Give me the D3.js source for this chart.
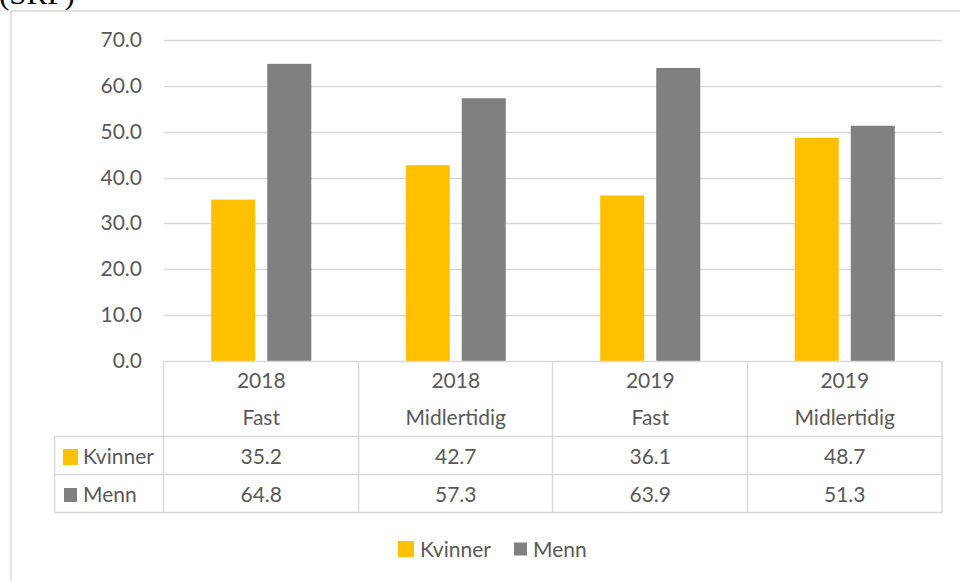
<!DOCTYPE html>
<html lang="no">
<head>
    <meta charset="UTF-8">
    <title>Kvinner og menn, fast og midlertidig</title>
    <script src="https://cdnjs.cloudflare.com/ajax/libs/d3/7.8.5/d3.min.js"></script>
    <style>
        * { margin: 0; padding: 0; box-sizing: border-box; }
        body { background: #fff; width: 960px; height: 581px; overflow: hidden; }
        svg text { font-family: Lato, 'Noto Sans', sans-serif; fill: #595959; }
    </style>
</head>
<body>
    <div id="chart"></div>
    <script>
        // data
        const years = ['2018', '2018', '2019', '2019'];
        const types = ['Fast', 'Midlertidig', 'Fast', 'Midlertidig'];
        const seriesNames = ['Kvinner', 'Menn'];
        const kvinner = [35.2, 42.7, 36.1, 48.7];
        const menn = [64.8, 57.3, 63.9, 51.3];
        const yTicks = [0, 10, 20, 30, 40, 50, 60, 70];
        const colors = ['#FFC000', '#808080'];

        const width = 960, height = 581;
        const svg = d3.select('#chart').append('svg')
            .attr('width', width)
            .attr('height', height);

        // title cut off at top
        svg.append('text')
            .attr('x', -1)
            .attr('y', 4)
            .style('font-family', "'Liberation Serif', serif")
            .style('font-size', '31px')
            .style('fill', '#000')
            .text('(SRF)');

        // chart frame (runs past the right/bottom edge)
        svg.append('rect')
            .attr('x', 11).attr('y', 11)
            .attr('width', 1000).attr('height', 700)
            .attr('fill', 'none')
            .attr('stroke', '#d9d9d9')
            .attr('stroke-width', 1.5);

        const plotLeft = 164, plotRight = 942;
        const cats = d3.range(years.length);

        const x0 = d3.scaleBand().domain(cats).range([plotLeft, plotRight]).padding(0);
        const x1 = d3.scaleBand().domain(seriesNames).range([0, x0.bandwidth()])
            .paddingInner(0.214).paddingOuter(0.843);
        const y = d3.scaleLinear().domain([0, 70]).range([361, 40]);

        // gridlines
        svg.append('g').selectAll('line')
            .data(yTicks.slice(1))
            .join('line')
            .attr('x1', plotLeft).attr('x2', plotRight)
            .attr('y1', d => Math.round(y(d)) + 0.5)
            .attr('y2', d => Math.round(y(d)) + 0.5)
            .attr('stroke', '#d9d9d9')
            .attr('stroke-width', 1.5);

        // y labels
        svg.append('g').selectAll('text')
            .data(yTicks)
            .join('text')
            .attr('x', 142)
            .attr('y', d => y(d) + 7)
            .attr('text-anchor', 'end')
            .style('font-size', '21px')
            .text(d => d.toFixed(1));

        // bars
        const seriesData = [kvinner, menn];
        seriesNames.forEach((name, si) => {
            svg.append('g').selectAll('rect')
                .data(cats)
                .join('rect')
                .attr('x', i => x0(i) + x1(name))
                .attr('y', i => y(seriesData[si][i]))
                .attr('width', x1.bandwidth())
                .attr('height', i => y(0) - y(seriesData[si][i]))
                .attr('fill', colors[si]);
        });

        // data table
        const tableTop = 361, headerBottom = 436.5, rowH = 38;
        const tableLeft = 54.5;
        const grid = '#d9d9d9';
        const tbl = svg.append('g');

        const hline = (xa, xb, yy) => tbl.append('line')
            .attr('x1', xa).attr('x2', xb).attr('y1', yy).attr('y2', yy)
            .attr('stroke', grid).attr('stroke-width', 1.5);
        const vline = (xx, ya, yb) => tbl.append('line')
            .attr('x1', xx).attr('x2', xx).attr('y1', ya).attr('y2', yb)
            .attr('stroke', grid).attr('stroke-width', 1.5);

        hline(plotLeft, plotRight, tableTop + 0.5);
        hline(tableLeft, plotRight, headerBottom);
        hline(tableLeft, plotRight, headerBottom + rowH);
        hline(tableLeft, plotRight, headerBottom + 2 * rowH);
        vline(tableLeft, headerBottom, headerBottom + 2 * rowH);
        cats.forEach(i => vline(Math.round(x0(i)) - 0.5, tableTop, headerBottom + 2 * rowH));
        vline(plotRight, tableTop, headerBottom + 2 * rowH);

        // header labels
        tbl.selectAll('.yr').data(cats).join('text')
            .attr('x', i => x0(i) + x0.bandwidth() / 2)
            .attr('y', 388)
            .attr('text-anchor', 'middle')
            .style('font-size', '21px')
            .text(i => years[i]);
        tbl.selectAll('.tp').data(cats).join('text')
            .attr('x', i => x0(i) + x0.bandwidth() / 2)
            .attr('y', 425)
            .attr('text-anchor', 'middle')
            .style('font-size', '21px')
            .text(i => types[i]);

        // rows
        seriesNames.forEach((name, si) => {
            const rowTop = headerBottom + si * rowH;
            const keySize = si === 0 ? 15 : 13;
            tbl.append('rect')
                .attr('x', si === 0 ? 63 : 64)
                .attr('y', rowTop + (rowH - keySize) / 2 + 1)
                .attr('width', keySize).attr('height', keySize + 1)
                .attr('fill', colors[si]);
            tbl.append('text')
                .attr('x', 83)
                .attr('y', rowTop + 27)
                .style('font-size', '21px')
                .text(name);
            tbl.selectAll(null).data(cats).join('text')
                .attr('x', i => x0(i) + x0.bandwidth() / 2)
                .attr('y', rowTop + 27)
                .attr('text-anchor', 'middle')
                .style('font-size', '21px')
                .text(i => seriesData[si][i].toFixed(1));
        });

        // bottom legend
        const legend = svg.append('g');
        const legendItems = [
            { name: 'Kvinner', key: 398, size: 16, text: 420 },
            { name: 'Menn', key: 514, size: 13, text: 533 }
        ];
        legendItems.forEach((d, i) => {
            legend.append('rect')
                .attr('x', d.key).attr('y', 549 - d.size / 2)
                .attr('width', d.size).attr('height', d.size)
                .attr('fill', colors[i]);
            legend.append('text')
                .attr('x', d.text).attr('y', 557)
                .style('font-size', '21px')
                .text(d.name);
        });
    </script>
</body>
</html>
